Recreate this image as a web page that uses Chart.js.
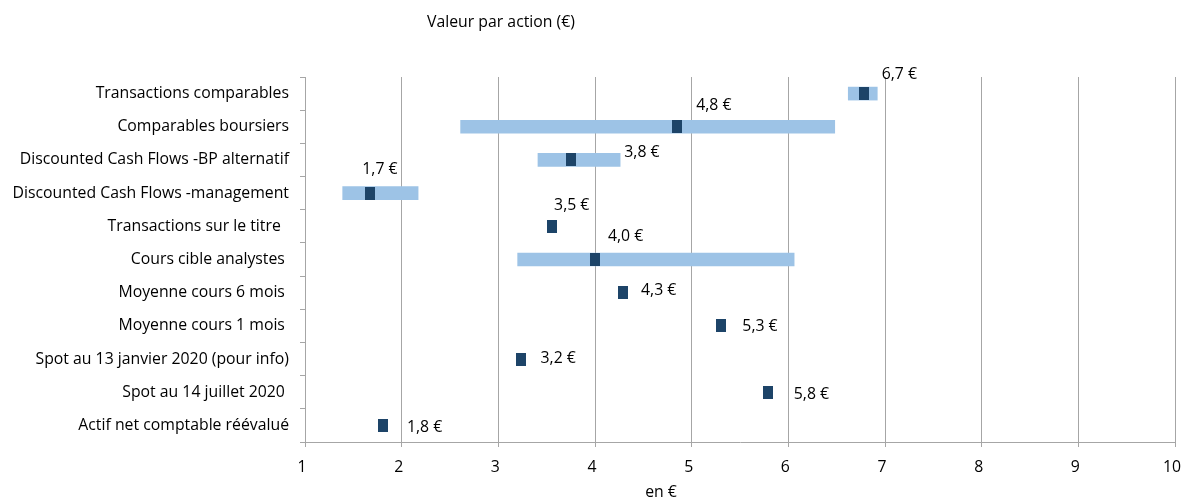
<!DOCTYPE html>
<html>
<head>
<meta charset="utf-8">
<script src="https://cdn.jsdelivr.net/npm/chart.js@4/dist/chart.umd.min.js"></script>
<style>
  html, body { margin: 0; padding: 0; background: #ffffff; }
  #wrap { width: 1182px; height: 501px; position: relative; }
</style>
</head>
<body>
<div id="wrap"><canvas id="c" width="1182" height="501"></canvas></div>
<script>
const categories = [
  'Transactions comparables',
  'Comparables boursiers',
  'Discounted Cash Flows -BP alternatif',
  'Discounted Cash Flows -management',
  'Transactions sur le titre  ',
  'Cours cible analystes ',
  'Moyenne cours 6 mois ',
  'Moyenne cours 1 mois ',
  'Spot au 13 janvier 2020 (pour info)',
  'Spot au 14 juillet 2020 ',
  'Actif net comptable réévalué'
];
const rangeLow  = [6.62, 2.61, 3.41, 1.39, null, 3.20, null, null, null, null, null];
const rangeHigh = [6.92, 6.48, 4.26, 2.17, null, 6.06, null, null, null, null, null];
const values    = [6.78, 4.85, 3.75, 1.67, 3.55, 4.00, 4.29, 5.30, 3.23, 5.79, 1.81];
const valueLabels = ['6,7 €', '4,8 €', '3,8 €', '1,7 €', '3,5 €', '4,0 €', '4,3 €', '5,3 €', '3,2 €', '5,8 €', '1,8 €'];
const xMin = 1, xMax = 10, xStep = 1;
const chartTitle = 'Valeur par action (€)';
const xAxisTitle = 'en €';

const FONT = '"Open Sans", sans-serif';
const FSIZE = 15.8;
const LIGHT = '#9DC3E6';
const DARK = '#1D4468';
const GRID = '#A6A6A6';

// marker image (narrow dark rectangle)
const marker = document.createElement('canvas');
marker.width = 10; marker.height = 13;
(function () { const g = marker.getContext('2d'); g.fillStyle = DARK; g.fillRect(0, 0, 10, 13); })();

// label offsets (px) from the marker centre to the left/middle of the text
const labelOffsets = [[18, -19.5], [19, -21], [53.5, -7], [-7.5, -23.5], [2.6, -20.5], [13, -23],
  [18, -2.5], [21.7, 0.5], [20, -1], [25.8, 2], [23.7, 2.3]];

const extras = {
  id: 'extras',
  afterDatasetsDraw(chart) {
    const ctx = chart.ctx;
    const meta = chart.getDatasetMeta(1);
    ctx.save();
    ctx.font = FSIZE + 'px ' + FONT;
    ctx.fillStyle = '#000';
    ctx.textAlign = 'left';
    ctx.textBaseline = 'middle';
    meta.data.forEach((pt, i) => {
      const o = labelOffsets[i];
      ctx.fillText(valueLabels[i], pt.x + o[0], pt.y + o[1]);
    });
    ctx.textAlign = 'center';
    ctx.fillText(chartTitle, 501, 22);
    ctx.fillText(xAxisTitle, 661, 492);
    ctx.restore();
  }
};

new Chart(document.getElementById('c'), {
  data: {
    labels: categories,
    datasets: [
      {
        type: 'bar',
        data: categories.map((c, i) => rangeLow[i] == null ? null : [rangeLow[i], rangeHigh[i]]),
        backgroundColor: LIGHT,
        barThickness: 13,
        order: 2
      },
      {
        type: 'line',
        data: values.map((v, i) => ({ x: v, y: categories[i] })),
        showLine: false,
        pointStyle: marker,
        order: 1
      }
    ]
  },
  options: {
    indexAxis: 'y',
    responsive: false,
    animation: false,
    layout: { padding: { top: 77, right: 7, left: 0, bottom: 0 } },
    plugins: { legend: { display: false }, tooltip: { enabled: false }, title: { display: false } },
    scales: {
      x: {
        type: 'linear', min: xMin, max: xMax,
        ticks: { stepSize: xStep, color: '#000', font: { family: FONT, size: FSIZE }, padding: 11, labelOffset: -3 },
        grid: { color: GRID, tickLength: 5, tickColor: GRID },
        border: { color: GRID },
        afterFit(s) { s.height = 59; s.paddingLeft = 0; s.paddingRight = 0; }
      },
      y: {
        type: 'category', offset: true,
        ticks: { color: '#000', font: { family: FONT, size: FSIZE }, padding: 11, autoSkip: false },
        grid: { offset: true, drawOnChartArea: false, tickLength: 5, color: GRID },
        border: { color: GRID },
        afterFit(s) { s.width = 305; s.paddingTop = 0; s.paddingBottom = 0; }
      }
    }
  },
  plugins: [extras]
});
</script>
</body>
</html>
